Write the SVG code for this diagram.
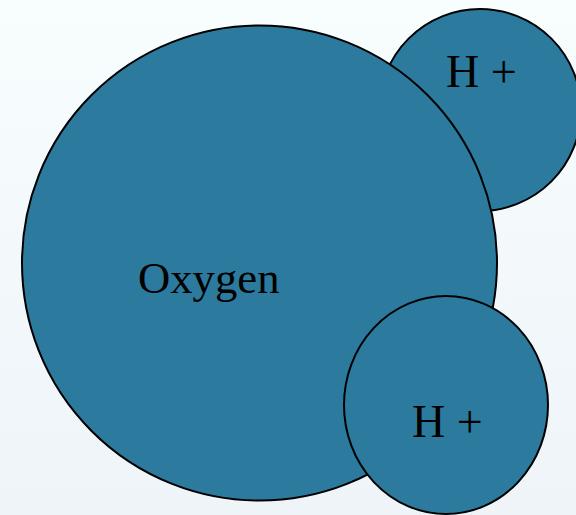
<svg xmlns="http://www.w3.org/2000/svg" width="576" height="515" viewBox="0 0 576 515">
<defs>
<linearGradient id="bg" x1="0" y1="0" x2="0" y2="1">
<stop offset="0" stop-color="#f8fdfe"/>
<stop offset="1" stop-color="#eef4f8"/>
</linearGradient>
</defs>
<style>
.atom{fill:#2c7b9f;stroke:#000;stroke-width:2}
.lbl{font-family:"Liberation Serif","Times New Roman",serif;fill:#000}
</style>
<rect x="0" y="0" width="576" height="515" fill="url(#bg)"/>
<g id="h1">
<circle class="atom" cx="480" cy="110" r="101"/>
<text class="lbl" x="446" y="87" font-size="46">H +</text>
</g>
<g id="oxygen">
<circle class="atom" cx="259.5" cy="263" r="237.5"/>
<text class="lbl" x="138" y="293" font-size="44.7">Oxygen</text>
</g>
<g id="h2">
<ellipse class="atom" cx="446" cy="405" rx="102" ry="109"/>
<text class="lbl" x="412" y="437" font-size="46">H +</text>
</g>
<g id="connectors"/>
</svg>
